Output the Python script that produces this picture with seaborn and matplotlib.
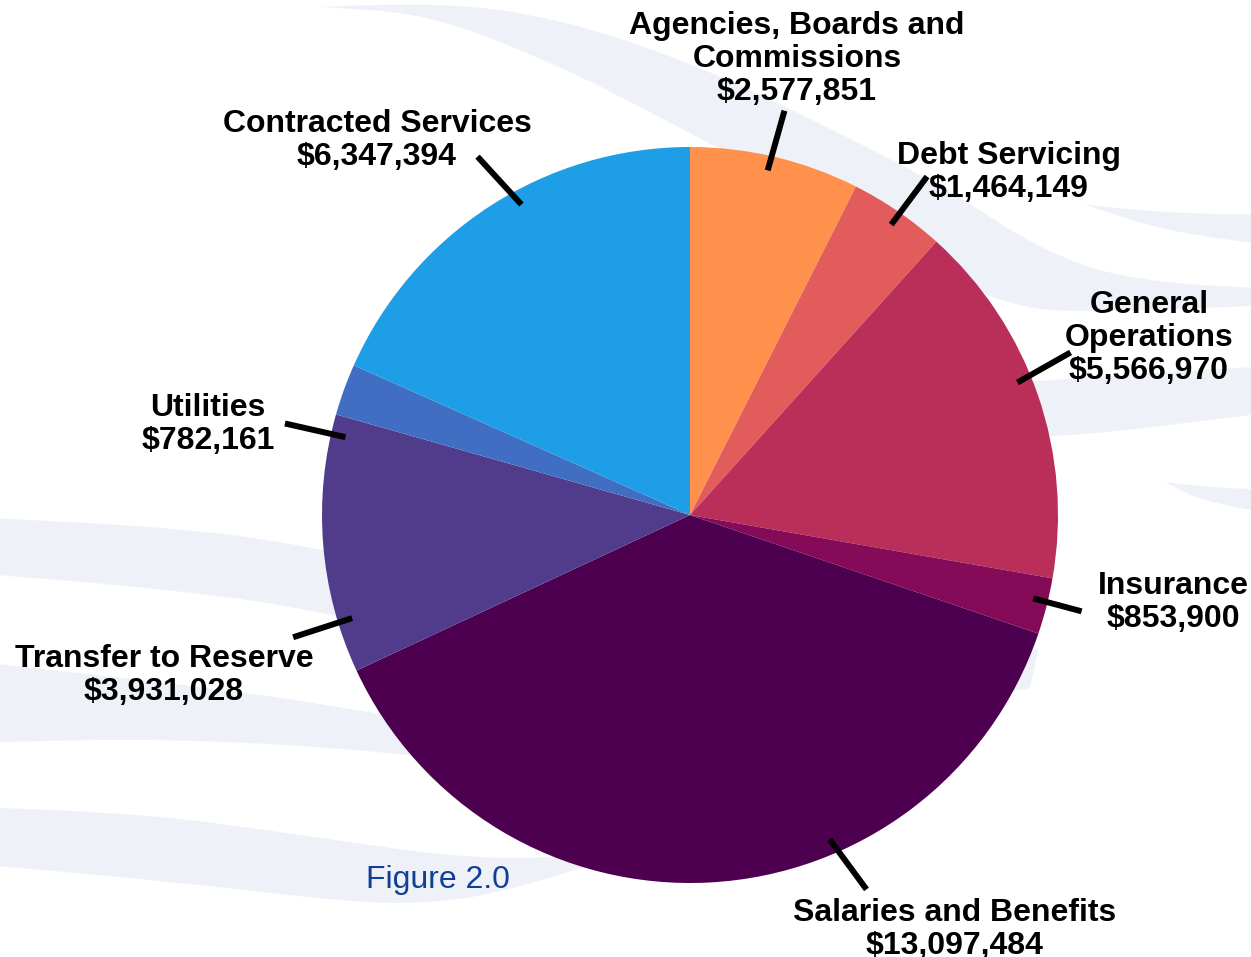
import numpy as np
import matplotlib
matplotlib.use("Agg")
import matplotlib.pyplot as plt
from matplotlib.path import Path
from matplotlib.patches import PathPatch
import seaborn as sns

# ---- budget data ----
categories = [
    "Agencies, Boards and\nCommissions",
    "Debt Servicing",
    "General\nOperations",
    "Insurance",
    "Salaries and Benefits",
    "Transfer to Reserve",
    "Utilities",
    "Contracted Services",
]
amounts = [2577851, 1464149, 5566970, 853900, 13097484, 3931028, 782161, 6347394]
slice_colors = ["#FF914D", "#E15C5A", "#B92F5A", "#850A58",
                "#4D0050", "#513C8C", "#3F6EC2", "#1E9EE6"]

# ---- label layout (pixel units, origin at top-left) ----
label_centers_x = [797, 1009, 1149, 1173, 955, 164, 208, 377]
label_first_baseline = [34, 164, 313, 594, 921, 667, 416, 132]
# where each tick leaves the slice (offset from the slice middle, degrees)
tick_start_shift = [-0.7, 0.3, -3.0, -0.7, -20.2, -12.4, -7.2, 4.5]
# tilt of each tick away from the radial direction, degrees
tick_tilt = [3.0, 2.0, -7.5, 1.3, -13.0, -1.0, 0.0, -14.0]
tick_length = [62, 60, 61, 50, 62, 62, 62, 65]

W, H = 1251, 957
CX, CY, R = 690, 515, 368
LINE_STEP = 33

sns.set_theme(style="white")
plt.rcParams["font.family"] = ["Liberation Sans", "DejaVu Sans"]
palette = sns.color_palette(slice_colors)

fig = plt.figure(figsize=(W / 100, H / 100), dpi=100)
ax = fig.add_axes([0, 0, 1, 1])


def flip(y):
    return H - y


def smooth_edge(pts):
    """Quadratic curve through midpoints of a polyline (start/end kept)."""
    pts = [np.array([x, flip(y)], float) for x, y in pts]
    verts, codes = [pts[0]], [Path.LINETO]
    for i in range(1, len(pts) - 1):
        verts += [pts[i], (pts[i] + pts[i + 1]) / 2]
        codes += [Path.CURVE3, Path.CURVE3]
    verts.append(pts[-1])
    codes.append(Path.LINETO)
    return verts, codes


def ribbon(upper, lower):
    v1, c1 = smooth_edge(upper)
    v2, c2 = smooth_edge(lower[::-1])
    verts = v1 + v2 + [v1[0]]
    codes = [Path.MOVETO] + c1[1:] + c2 + [Path.CLOSEPOLY]
    return Path(verts, codes)


# soft decorative ribbons in the background
ribbons = [
    ([(321, 7), (430, 1), (560, 18), (700, 66), (830, 128), (950, 190),
      (1040, 250), (1130, 281), (1290, 290)],
     [(321, 7), (430, 14), (560, 66), (650, 112), (760, 170), (880, 240),
      (1000, 306), (1100, 314), (1290, 304)]),
    ([(1083, 204), (1150, 213), (1290, 215)],
     [(1083, 204), (1180, 236), (1290, 247)]),
    ([(880, 392), (1040, 381), (1150, 373), (1290, 365)],
     [(880, 442), (1055, 437), (1150, 428), (1290, 410)]),
    ([(1165, 482), (1210, 488), (1290, 490)],
     [(1165, 482), (1210, 505), (1290, 516)]),
    ([(900, 640), (1000, 645), (1038, 650)],
     [(900, 700), (1000, 695), (1030, 688)]),
    ([(-40, 517), (150, 524), (321, 547), (460, 585)],
     [(-40, 572), (179, 590), (336, 613), (460, 645)]),
    ([(-40, 660), (214, 687), (375, 713), (460, 727)],
     [(-40, 743), (179, 738), (407, 753), (460, 762)]),
    ([(-40, 807), (119, 810), (316, 837), (474, 860), (600, 855)],
     [(-40, 863), (158, 880), (356, 903), (435, 903), (514, 890), (600, 862)]),
]
for up, lo in ribbons:
    ax.add_patch(PathPatch(ribbon(up, lo), facecolor="#EEF2F8",
                           edgecolor="none", zorder=0))

# pie, clockwise from twelve o'clock
ax.pie(amounts, colors=palette, startangle=90, counterclock=False,
       center=(CX, flip(CY)), radius=R,
       wedgeprops=dict(linewidth=0, antialiased=True, zorder=2))

# leader ticks and labels
total = float(sum(amounts))
cum = 0.0
for i, (name, val) in enumerate(zip(categories, amounts)):
    frac = val / total
    theta = np.deg2rad(360 * (cum + frac / 2) + tick_start_shift[i])
    cum += frac
    r0 = 0.96 * R
    x0, y0 = CX + r0 * np.sin(theta), CY - r0 * np.cos(theta)
    phi = theta + np.deg2rad(tick_tilt[i])
    x1 = x0 + tick_length[i] * np.sin(phi)
    y1 = y0 - tick_length[i] * np.cos(phi)
    ax.plot([x0, x1], [flip(y0), flip(y1)], color="black", lw=4.3,
            solid_capstyle="butt", zorder=3)

    lines = name.split("\n") + [f"${val:,.0f}"]
    for k, txt in enumerate(lines):
        ax.text(label_centers_x[i], flip(label_first_baseline[i] + k * LINE_STEP),
                txt, ha="center", va="baseline", fontsize=23,
                fontweight="bold", color="black", zorder=4)

ax.text(438, flip(888), "Figure 2.0", ha="center", va="baseline",
        fontsize=23, color="#123F96", zorder=4)

ax.set_xlim(0, W)
ax.set_ylim(0, H)
ax.set_aspect("equal")
ax.axis("off")

fig.savefig("out.png", dpi=100, facecolor="white")
